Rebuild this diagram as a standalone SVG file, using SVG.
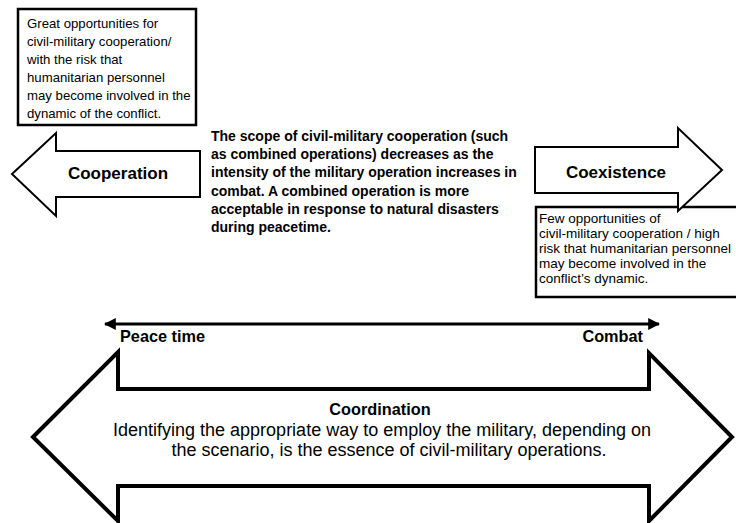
<svg xmlns="http://www.w3.org/2000/svg" width="736" height="523" viewBox="0 0 736 523">
<defs>
<style>
text{font-family:"Liberation Sans",Arial,sans-serif;fill:#000}
.box{fill:#fff;stroke:#000;stroke-width:2.5}
.arr{fill:#fff;stroke:#000;stroke-width:2}
.big{fill:#fff;stroke:#000;stroke-width:4;stroke-linejoin:miter}
.sm{font-size:13.2px}
.sm2{font-size:13.5px}
.mid{font-size:14px;font-weight:bold}
.lbl{font-size:17px;font-weight:bold}
.scale{font-size:16.3px;font-weight:bold}
.body{font-size:18px}
</style>
<marker id="ah" viewBox="0 0 10 10" refX="9" refY="5" markerWidth="4" markerHeight="4.5" orient="auto-start-reverse" markerUnits="strokeWidth">
<path d="M0,0 L10,5 L0,10 Z" fill="#000"/>
</marker>
</defs>
<g id="note-cooperation">
<rect class="box" x="18" y="9" width="178" height="116"/>
<text class="sm"><tspan x="27" y="28">Great opportunities for</tspan><tspan x="27" y="46">civil-military cooperation/</tspan><tspan x="27" y="64">with the risk that</tspan><tspan x="27" y="82">humanitarian personnel</tspan><tspan x="27" y="100">may become involved in the</tspan><tspan x="27" y="118">dynamic of the conflict.</tspan></text>
</g>
<g id="cooperation">
<polygon class="arr" points="12,174 56,133 56,151 200,151 200,197 56,197 56,216"/>
<text class="lbl" x="118" y="179" text-anchor="middle">Cooperation</text>
</g>
<g id="scope-text">
<text class="mid"><tspan x="211" y="141">The scope of civil-military cooperation (such</tspan><tspan x="211" y="159">as combined operations) decreases as the</tspan><tspan x="211" y="177">intensity of the military operation increases in</tspan><tspan x="211" y="196">combat. A combined operation is more</tspan><tspan x="211" y="214">acceptable in response to natural disasters</tspan><tspan x="211" y="232">during peacetime.</tspan></text>
</g>
<g id="note-coexistence">
<rect class="box" x="536" y="207" width="210" height="90"/>
<text class="sm2"><tspan x="539" y="223">Few opportunities of</tspan><tspan x="539" y="238">civil-military cooperation / high</tspan><tspan x="539" y="253">risk that humanitarian personnel</tspan><tspan x="539" y="268">may become involved in the</tspan><tspan x="539" y="283">conflict’s dynamic.</tspan></text>
</g>
<g id="coexistence">
<polygon class="arr" points="535,147 678,147 678,128 722,170 678,211 678,193 535,193"/>
<text class="lbl" x="616" y="178" text-anchor="middle">Coexistence</text>
</g>
<g id="connectors">
<line x1="105" y1="324" x2="659" y2="324" stroke="#000" stroke-width="3" marker-start="url(#ah)" marker-end="url(#ah)"/>
</g>
<g id="scale-labels">
<text class="scale" x="120" y="342">Peace time</text>
<text class="scale" x="643" y="342" text-anchor="end">Combat</text>
</g>
<g id="coordination">
<polygon class="big" points="33,437 118,352 118,389 649,389 649,353 732,437 649,521 649,486 118,486 118,521"/>
<text class="scale" x="380" y="415" text-anchor="middle">Coordination</text>
<text class="body" x="382" y="436" text-anchor="middle">Identifying the appropriate way to employ the military, depending on</text>
<text class="body" x="389" y="456" text-anchor="middle">the scenario, is the essence of civil-military operations.</text>
</g>
</svg>
